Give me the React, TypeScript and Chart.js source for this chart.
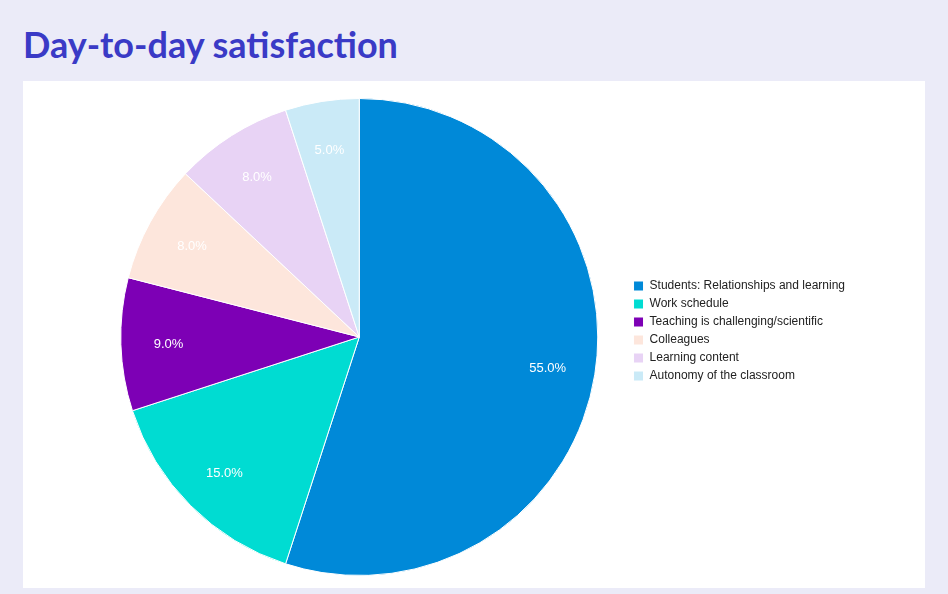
import React, { useEffect, useRef } from "react";
import { Chart, registerables } from "chart.js";

Chart.register(...registerables);

const categories = [
  "Students: Relationships and learning",
  "Work schedule",
  "Teaching is challenging/scientific",
  "Colleagues",
  "Learning content",
  "Autonomy of the classroom",
];
const values = [55, 15, 9, 8, 8, 5];
const colors = ["#0089d8", "#00dcd2", "#7d00b5", "#fde6dc", "#e8d3f5", "#caeaf7"];

const labelPlugin = {
  id: "sliceLabels",
  afterLayout(chart: any) {
    const lg = chart.legend;
    if (lg) {
      lg.top -= 6;
      lg.bottom -= 6;
    }
  },
  afterDatasetsDraw(chart: any) {
    const ctx = chart.ctx;
    const meta = chart.getDatasetMeta(0);
    const data = chart.data.datasets[0].data as number[];
    const total = data.reduce((a, b) => a + b, 0);
    ctx.save();
    ctx.fillStyle = "#ffffff";
    ctx.font = "13px 'Liberation Sans', Arial, sans-serif";
    ctx.textAlign = "center";
    ctx.textBaseline = "middle";
    meta.data.forEach((arc: any, i: number) => {
      const p = arc.getProps(["x", "y", "startAngle", "endAngle", "outerRadius"], true);
      const mid = (p.startAngle + p.endAngle) / 2;
      const r = p.outerRadius * 0.8;
      const pct = ((data[i] / total) * 100).toFixed(1) + "%";
      ctx.fillText(pct, p.x + Math.cos(mid) * r, p.y + Math.sin(mid) * r + 1.5);
    });
    ctx.restore();
  },
};

export default function App() {
  const ref = useRef<HTMLCanvasElement>(null);
  useEffect(() => {
    if (!ref.current) return;
    const chart = new Chart(ref.current, {
      type: "pie",
      data: {
        labels: categories,
        datasets: [
          {
            data: values,
            backgroundColor: colors,
            borderColor: "#ffffff",
            borderWidth: 1,
          },
        ],
      },
      options: {
        animation: false,
        responsive: false,
        layout: { padding: { left: 68, right: 70, top: 17, bottom: 12 } },
        plugins: {
          tooltip: { enabled: false },
          legend: {
            position: "right",
            labels: {
              boxWidth: 10,
              boxHeight: 10,
              padding: 6,
              color: "#222222",
              font: { size: 12, family: "'Liberation Sans', Arial, sans-serif" },
            },
          },
        },
      },
      plugins: [labelPlugin],
    });
    return () => chart.destroy();
  }, []);

  return (
    <div
      style={{
        position: "fixed",
        inset: 0,
        background: "#ebebf8",
        overflow: "hidden",
      }}
    >
      <div
        style={{
          position: "absolute",
          left: 23,
          top: 22,
          fontFamily: "Lato, sans-serif",
          fontWeight: 700,
          fontSize: 36,
          lineHeight: "44px",
          color: "#3a3ac6",
          whiteSpace: "nowrap",
        }}
      >
        Day-to-day satisfaction
      </div>
      <div
        style={{
          position: "absolute",
          left: 23,
          top: 81,
          width: 902,
          height: 507,
          background: "#ffffff",
        }}
      >
        <canvas ref={ref} width={902} height={507} style={{ display: "block" }} />
      </div>
    </div>
  );
}
